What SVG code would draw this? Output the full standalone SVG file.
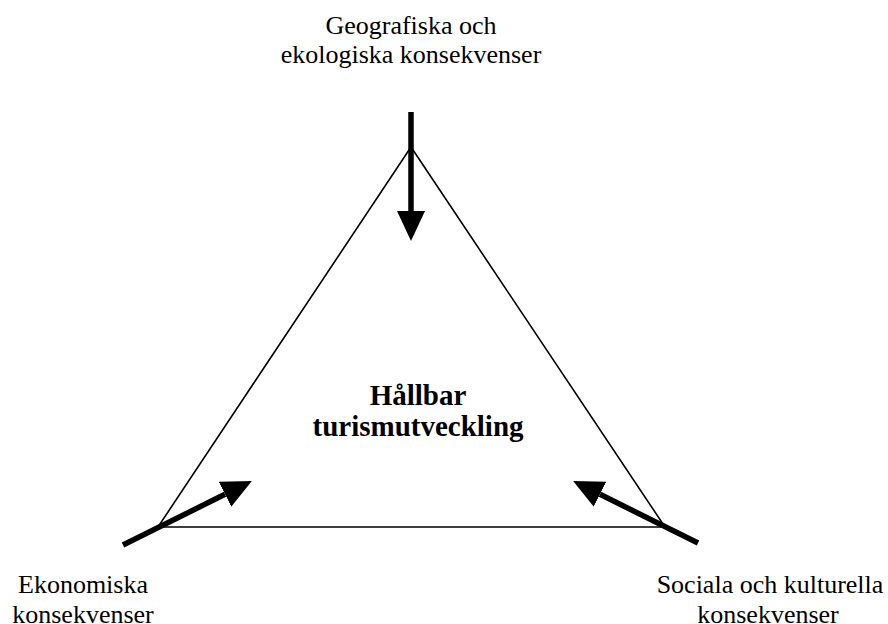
<svg xmlns="http://www.w3.org/2000/svg" width="888" height="624" viewBox="0 0 888 624">
<style>
.lbl{font-family:"Liberation Serif","Times New Roman",serif;font-size:26px;fill:#000;text-anchor:middle}
.ctr{font-family:"Liberation Serif","Times New Roman",serif;font-size:29px;font-weight:bold;fill:#000;text-anchor:middle}
.tri{fill:none;stroke:#000;stroke-width:1.6}
.arr{fill:none;stroke:#000;stroke-width:5.5;marker-end:url(#ah)}
</style>
<defs>
<marker id="ah" viewBox="0 0 30 28" refX="0" refY="14" markerWidth="30" markerHeight="28" markerUnits="userSpaceOnUse" orient="auto">
<path d="M0,0 L30,14 L0,28 Z" fill="#000"/>
</marker>
</defs>
<rect width="888" height="624" fill="#fff"/>
<g id="triangle">
<polygon class="tri" points="411,147 158,527 665,527"/>
</g>
<g id="center">
<text class="ctr" x="418" y="405">Hållbar</text>
<text class="ctr" x="418" y="436">turismutveckling</text>
</g>
<g id="top">
<text class="lbl" x="411" y="34">Geografiska och</text>
<text class="lbl" x="411" y="63">ekologiska konsekvenser</text>
</g>
<g id="left">
<text class="lbl" x="83" y="593">Ekonomiska</text>
<text class="lbl" x="83" y="623">konsekvenser</text>
</g>
<g id="right">
<text class="lbl" x="770" y="593">Sociala och kulturella</text>
<text class="lbl" x="768" y="623">konsekvenser</text>
</g>
<g id="connectors">
<line class="arr" x1="411" y1="112" x2="411" y2="211"/>
<line class="arr" x1="123" y1="545" x2="225" y2="494.3"/>
<line class="arr" x1="698" y1="543" x2="600" y2="494.3"/>
</g>
</svg>
